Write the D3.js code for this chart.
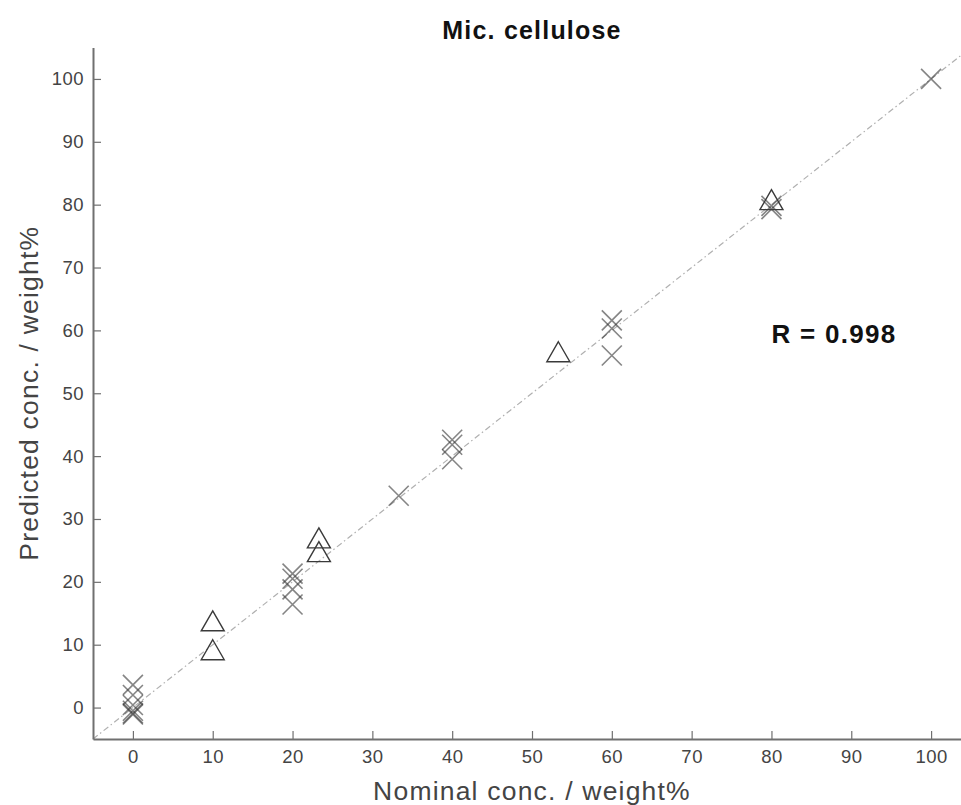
<!DOCTYPE html>
<html>
<head>
<meta charset="utf-8">
<script src="https://cdn.jsdelivr.net/npm/d3@7"></script>
<style>
  html, body { margin: 0; padding: 0; background: #fff; }
  svg { display: block; font-family: "Liberation Sans", Arial, sans-serif; }
</style>
</head>
<body>
<svg id="chart" width="961" height="805"></svg>
<script>
// Calibration results for microcrystalline cellulose
const crossNominal   = [0, 0, 0, 0, 0, 0, 20, 20, 20, 20, 33.3, 40, 40, 40, 60, 60, 60, 80, 80, 100];
const crossPredicted = [3.6, 2.0, 0.4, -0.5, -0.9, -1.1, 21.3, 20.5, 18.8, 16.4, 33.7, 42.6, 41.8, 39.5, 61.6, 60.3, 56.0, 79.8, 79.3, 100.0];
const triNominal     = [10, 10, 23.3, 23.3, 53.3, 80];
const triPredicted   = [13.8, 9.2, 27.0, 24.8, 56.6, 80.8];
const tickValues     = [0, 10, 20, 30, 40, 50, 60, 70, 80, 90, 100];
const domain         = [-5, 105];
const titleText      = "Mic. cellulose";
const xLabelText     = "Nominal conc. / weight%";
const yLabelText     = "Predicted conc. / weight%";
const rText          = "R = 0.998";

const svg = d3.select("#chart");
const plotLeft = 93, plotBottom = 739, plotRight = 971, plotTop = 47.5;

const x = d3.scaleLinear().domain(domain).range([plotLeft, plotRight]);
const y = d3.scaleLinear().domain(domain).range([plotBottom, plotTop]);

const axisColor = "#707070";
const textColor = "#444";

// 1:1 reference line
svg.append("line")
  .attr("x1", x(domain[0])).attr("y1", y(domain[0]))
  .attr("x2", x(domain[1])).attr("y2", y(domain[1]))
  .attr("stroke", "#b0b0b0").attr("stroke-width", 1.2)
  .attr("stroke-dasharray", "6,3,1.5,3");

// Axes with inward ticks
const xAxis = svg.append("g")
  .attr("transform", `translate(0,${plotBottom})`)
  .call(d3.axisBottom(x).tickValues(tickValues).tickSize(-8).tickPadding(11).tickSizeOuter(0));
const yAxis = svg.append("g")
  .attr("transform", `translate(${plotLeft},0)`)
  .call(d3.axisLeft(y).tickValues(tickValues).tickSize(-8).tickPadding(9).tickSizeOuter(0));

[xAxis, yAxis].forEach(g => {
  g.select(".domain").attr("stroke", axisColor).attr("stroke-width", 2);
  g.selectAll(".tick line").attr("stroke", axisColor).attr("stroke-width", 1.2);
  g.selectAll(".tick text").attr("fill", textColor)
    .style("font-size", "18.5px").style("letter-spacing", "0.5px")
    .style("font-family", "'Liberation Sans', Arial, sans-serif");
});

// Cross markers
const cr = 10;
const crossData = crossNominal.map((v, i) => [v, crossPredicted[i]]);
svg.append("g").selectAll("path.cross")
  .data(crossData).join("path")
  .attr("class", "cross")
  .attr("d", d => {
    const cx = x(d[0]), cy = y(d[1]);
    return `M${cx - cr},${cy - cr}L${cx + cr},${cy + cr}M${cx - cr},${cy + cr}L${cx + cr},${cy - cr}`;
  })
  .attr("fill", "none")
  .attr("stroke", "#333")
  .attr("stroke-opacity", 0.6)
  .attr("stroke-width", 1.6);

// Triangle markers
const tw = 11.5, th = 10;
const triData = triNominal.map((v, i) => [v, triPredicted[i]]);
svg.append("g").selectAll("path.tri")
  .data(triData).join("path")
  .attr("class", "tri")
  .attr("d", d => {
    const cx = x(d[0]), cy = y(d[1]);
    return `M${cx},${cy - th}L${cx + tw},${cy + th}L${cx - tw},${cy + th}Z`;
  })
  .attr("fill", "none")
  .attr("stroke", "#3a3a3a")
  .attr("stroke-width", 1.4);

// Texts
svg.append("text")
  .attr("x", (plotLeft + plotRight) / 2).attr("y", 39)
  .attr("text-anchor", "middle")
  .attr("font-weight", "bold").attr("font-size", 25)
  .attr("letter-spacing", 1.2)
  .attr("fill", "#111")
  .text(titleText);

svg.append("text")
  .attr("x", (plotLeft + plotRight) / 2).attr("y", 800)
  .attr("text-anchor", "middle")
  .attr("font-size", 26.5)
  .attr("letter-spacing", 1.2)
  .attr("fill", textColor)
  .text(xLabelText);

svg.append("text")
  .attr("transform", `translate(38,${(plotTop + plotBottom) / 2}) rotate(-90)`)
  .attr("text-anchor", "middle")
  .attr("font-size", 26.5)
  .attr("letter-spacing", 1.2)
  .attr("fill", textColor)
  .text(yLabelText);

svg.append("text")
  .attr("x", x(80)).attr("y", y(58.0))
  .attr("font-weight", "bold").attr("font-size", 26)
  .attr("letter-spacing", 1.3)
  .attr("fill", "#111")
  .text(rText);
</script>
</body>
</html>
